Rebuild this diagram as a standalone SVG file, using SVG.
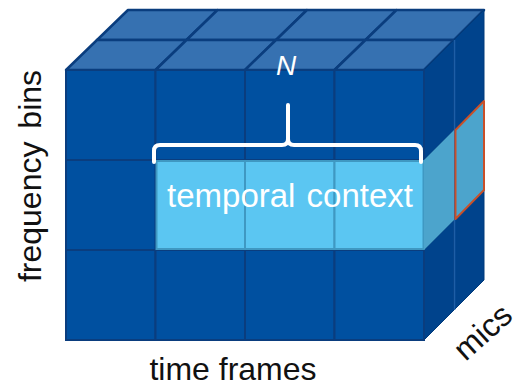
<svg xmlns="http://www.w3.org/2000/svg" width="520" height="387" viewBox="0 0 520 387">
  <style>
    .front { fill: #0050A0; stroke: #0A3D7E; stroke-width: 2; }
    .top { fill: #3671B1; stroke: #0A3D7E; stroke-width: 2.5; stroke-linejoin: round; }
    .side { fill: #00438C; stroke: #003A7A; stroke-width: 1; }
    .hl { fill: #5BC6F2; stroke: #3F98C2; stroke-width: 2; }
    .hlside { fill: #4CA4CC; }
    .lbl { font-family: "Liberation Sans", Arial, sans-serif; font-size: 32px; fill: #111111; }
    .wlbl { font-family: "Liberation Sans", Arial, sans-serif; fill: #FFFFFF; }
  </style>
  <rect width="520" height="387" fill="#FFFFFF"/>

  <!-- tensor: 4 time frames x 3 frequency bins x 2 mics -->
  <g id="tensor">
    <!-- top faces, rear layer -->
    <g id="top-rear">
      <polygon class="top" points="97,40 186.5,40 217.5,10 128,10"/>
      <polygon class="top" points="186.5,40 276,40 307,10 217.5,10"/>
      <polygon class="top" points="276,40 365.5,40 396.5,10 307,10"/>
      <polygon class="top" points="365.5,40 454,40 484,10 396.5,10"/>
    </g>
    <!-- top faces, front layer -->
    <g id="top-front">
      <polygon class="top" points="66,70 155.5,70 186.5,40 97,40"/>
      <polygon class="top" points="155.5,70 245,70 276,40 186.5,40"/>
      <polygon class="top" points="245,70 334.5,70 365.5,40 276,40"/>
      <polygon class="top" points="334.5,70 424,70 454,40 365.5,40"/>
    </g>
    <!-- right side faces -->
    <g id="side-rear">
      <polygon class="side" points="454,40 484,10 484,100 454,130"/>
      <polygon class="side" points="454,220 484,190 484,280 454,310"/>
    </g>
    <g id="side-front">
      <polygon class="side" points="424,70 454,40 454,130 424,160"/>
      <polygon class="side" points="424,250 454,220 454,310 424,340"/>
    </g>
    <line x1="454.5" y1="40" x2="454.5" y2="310" stroke="#1E5EA6" stroke-width="1.5"/>
    <!-- front face -->
    <g id="front">
      <rect class="front" x="66" y="70" width="89.5" height="90"/>
      <rect class="front" x="155.5" y="70" width="89.5" height="90"/>
      <rect class="front" x="245" y="70" width="89.5" height="90"/>
      <rect class="front" x="334.5" y="70" width="89.5" height="90"/>
      <rect class="front" x="66" y="160" width="89.5" height="90"/>
      <rect class="front" x="66" y="250" width="89.5" height="90"/>
      <rect class="front" x="155.5" y="250" width="89.5" height="90"/>
      <rect class="front" x="245" y="250" width="89.5" height="90"/>
      <rect class="front" x="334.5" y="250" width="89.5" height="90"/>
    </g>
  </g>

  <!-- highlighted block of N frames -->
  <g id="temporal-context">
    <rect class="hl" x="156.5" y="161" width="88.5" height="88"/>
    <rect class="hl" x="245" y="161" width="89.5" height="88"/>
    <rect class="hl" x="334.5" y="161" width="89" height="88"/>
    <polygon class="hlside" points="424,160 454,130 454,220 424,250"/>
    <text class="wlbl" x="290" y="207" font-size="33" text-anchor="middle" word-spacing="2">temporal context</text>
  </g>

  <!-- rear mic slice of the same bin -->
  <g id="rear-slice">
    <polygon class="hlside" points="455.5,130 484,101 484,190 455.5,219" stroke="#C8502A" stroke-width="2" stroke-linejoin="round"/>
  </g>

  <!-- brace over the context window -->
  <g id="brace">
    <path d="M154,162 V151 Q154,145 160,145 H282 Q288,145 288,139 V105 M288,139 Q288,145 294,145 H415 Q421,145 421,151 V162" fill="none" stroke="#FFFFFF" stroke-width="4" stroke-linecap="round" stroke-linejoin="round"/>
    <text class="wlbl" x="286" y="75" font-size="28" font-style="italic" text-anchor="middle">N</text>
  </g>

  <!-- axis labels -->
  <g id="labels">
    <text class="lbl" transform="translate(41,176) rotate(-90)" text-anchor="middle" word-spacing="4">frequency bins</text>
    <text class="lbl" x="233" y="380" font-size="31" text-anchor="middle">time frames</text>
    <text class="lbl" transform="translate(490,340) rotate(-42)" text-anchor="middle">mics</text>
  </g>
</svg>
